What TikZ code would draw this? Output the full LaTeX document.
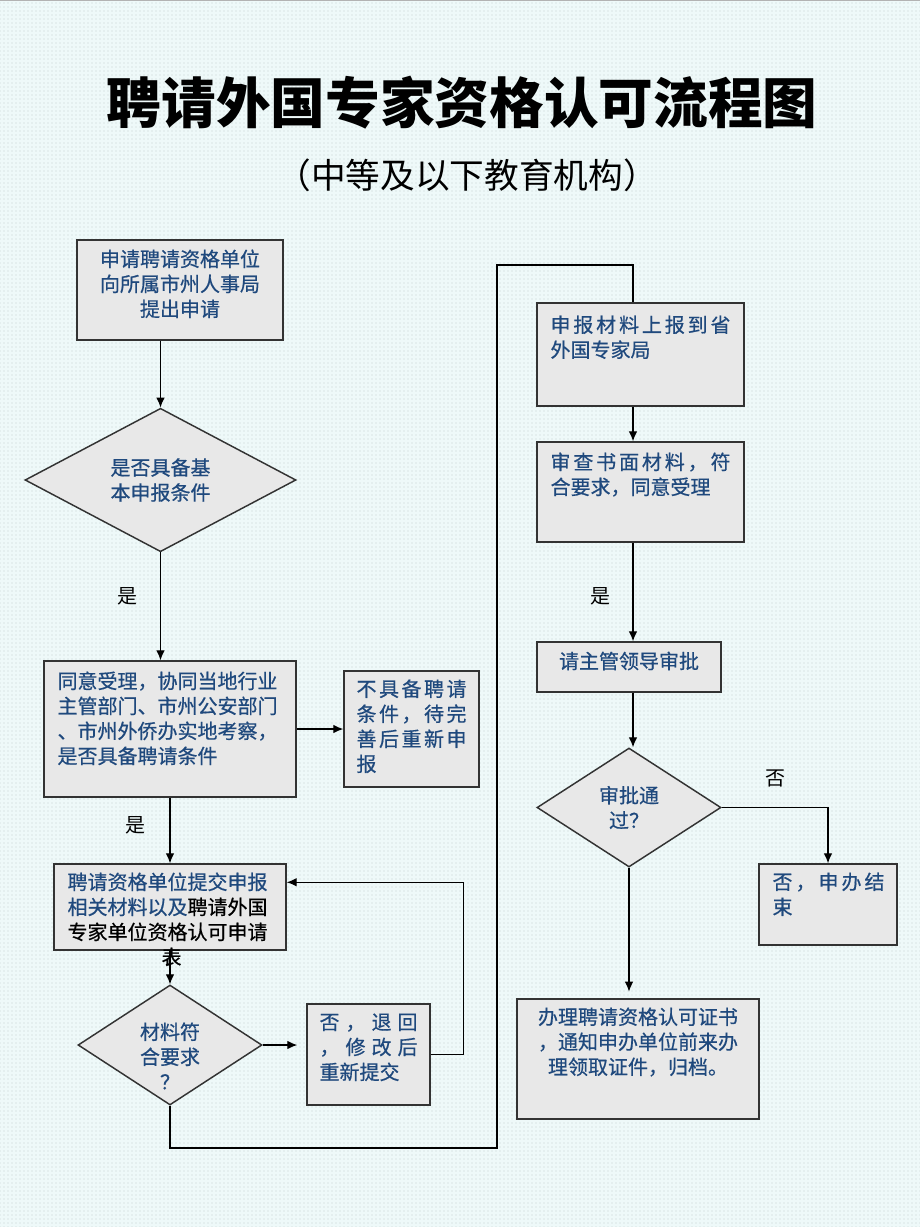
\documentclass[tikz,border=0pt]{standalone}
\usepackage{fontspec}
\setmainfont{Noto Sans CJK SC}
\newfontfamily\boxfont[FakeBold=0.6]{Noto Sans CJK SC}
\usetikzlibrary{shapes.geometric,arrows.meta,patterns}

\definecolor{txtblue}{HTML}{1F497D}
\definecolor{boxgray}{HTML}{E8E8E8}
\definecolor{boxline}{HTML}{333333}
\definecolor{bgcyan}{HTML}{EEF9F9}
\definecolor{dotgray}{HTML}{C4D2D2}

% stretch one line of a box to the full text width
\newcommand{\jl}[2]{\makebox[#1][s]{#2}}

\tikzset{
  procbox/.style={shape=rectangle,draw=boxline,fill=boxgray,line width=1.1pt,inner sep=0pt},
  decision/.style={shape=diamond,draw=boxline,fill=boxgray,line width=1.1pt,inner sep=0pt,
    text=txtblue,align=center,font=\boxfont\fontsize{15}{18.75}\selectfont},
  boxtext/.style={text=txtblue,inner sep=0pt,font=\boxfont\fontsize{15}{18.75}\selectfont},
  lbl/.style={inner sep=0pt,font=\fontsize{15}{18}\selectfont},
  conn/.style={draw=black,line width=0.9pt},
  arr/.style={conn,-{Latex[length=7.5pt,width=6.5pt]}}
}

\begin{document}
\begin{tikzpicture}[x=0.75pt,y=-0.75pt]
\useasboundingbox (0,0) rectangle (920,1227);
\fill[bgcyan] (0,0) rectangle (920,1227);
\fill[pattern=dots,pattern color=dotgray] (0,0) rectangle (920,1227);
\draw[gray!60,line width=1.5pt] (0,0.5) -- (920,0.5);

\node[font=\fontsize{41}{48}\selectfont\bfseries] (title) at (462,103) {聘请外国专家资格认可流程图};
\node[font=\fontsize{26}{30}\selectfont] (subtitle) at (467,175) {（中等及以下教育机构）};

% left column
\node[procbox,minimum width=154.5pt,minimum height=75pt] (apply) at (180,290) {};
\node[boxtext,align=center,anchor=north] (applyT) at ([shift={(0,10)}]apply.north) {申请聘请资格单位\\向所属市州人事局\\提出申请};

\node[decision,minimum width=203.25pt,minimum height=105pt] (ask) at (160.5,480) {是否具备基\\本申报条件};

\node[procbox,minimum width=189pt,minimum height=102pt] (survey) at (170,729) {};
\node[boxtext,align=left,anchor=north west] (surveyT) at ([shift={(14,11)}]survey.north west) {同意受理，协同当地行业\\主管部门、市州公安部门\\、市州外侨办实地考察，\\是否具备聘请条件};

\node[procbox,minimum width=101.25pt,minimum height=87pt] (lack) at (411.5,729) {};
\node[boxtext,align=left,anchor=north west] (lackT) at ([shift={(13,9)}]lack.north west) {\jl{82.5pt}{不\hfil 具\hfil 备\hfil 聘\hfil 请}\\\jl{82.5pt}{条\hfil 件\hfil ，\hfil 待\hfil 完}\\\jl{82.5pt}{善\hfil 后\hfil 重\hfil 新\hfil 申}\\报};

\node[procbox,minimum width=174pt,minimum height=64.5pt] (submit) at (170,907) {};
\node[boxtext,align=left,anchor=north west] (submitT) at ([shift={(14,9)}]submit.north west) {聘请资格单位提交申报\\相关材料以及{\color{black}聘请外国}\\{\color{black}专家单位资格认可申请}\\\hspace*{70.5pt}{\color{black}表}};

\node[decision,minimum width=138pt,minimum height=90pt] (check) at (170,1045) {};
\node[boxtext,align=center] (checkT) at ([shift={(0,11)}]check.center) {材料符\\合要求\\？};

\node[procbox,minimum width=92.25pt,minimum height=75.75pt] (back) at (368.5,1054.5) {};
\node[boxtext,align=left,anchor=north west] (backT) at ([shift={(13,10)}]back.north west) {\jl{73.5pt}{否\hfil ，\hfil 退\hfil 回}\\\jl{73.5pt}{，\hfil 修\hfil 改\hfil 后}\\重新提交};

% right column
\node[procbox,minimum width=155.25pt,minimum height=77.25pt] (report) at (640.5,354.5) {};
\node[boxtext,align=left,anchor=north west] (reportT) at ([shift={(14,13)}]report.north west) {\jl{135pt}{申\hfil 报\hfil 材\hfil 料\hfil 上\hfil 报\hfil 到\hfil 省}\\外国专家局};

\node[procbox,minimum width=155.25pt,minimum height=75pt] (review) at (640.5,492) {};
\node[boxtext,align=left,anchor=north west] (reviewT) at ([shift={(14,11)}]review.north west) {\jl{135pt}{审\hfil 查\hfil 书\hfil 面\hfil 材\hfil 料\hfil ，\hfil 符}\\合要求，同意受理};

\node[procbox,minimum width=138pt,minimum height=37.5pt] (leader) at (629,667) {};
\node[boxtext] (leaderT) at ([shift={(0,-6)}]leader.center) {请主管领导审批};

\node[decision,minimum width=138pt,minimum height=89.25pt] (approve) at (629,807.5) {审批通\\过？};

\node[procbox,minimum width=103.5pt,minimum height=60.75pt] (endbox) at (828,904.5) {};
\node[boxtext,align=left,anchor=north west] (endboxT) at ([shift={(14,9)}]endbox.north west) {\jl{84pt}{否\hfil ，\hfil 申\hfil 办\hfil 结}\\束};

\node[procbox,minimum width=181.5pt,minimum height=90pt] (issue) at (638,1059) {};
\node[boxtext,align=center,anchor=north] (issueT) at ([shift={(0,9)}]issue.north) {办理聘请资格认可证书\\，通知申办单位前来办\\理领取证件，归档。};

% labels
\node[lbl] (yes1) at (127,596) {是};
\node[lbl] (yes2) at (135,825) {是};
\node[lbl] (yes3) at (600,596) {是};
\node[lbl] (no1) at (775,778) {否};

% turning points
\coordinate (lowTurn) at (497,1148);
\coordinate (highTurn) at (497,265);
\coordinate (colR) at (633,265);
\coordinate (submitIn) at ([shift={(0,19)}]submit.north east);

% connectors
\draw[arr] (apply.south -| ask.north) -- (ask.north);
\draw[arr] (ask.south) -- (ask.south |- survey.north);
\draw[arr] (survey.east) -- (lack.west);
\draw[arr] (survey.south) -- (submit.north);
\draw[arr] (submit.south) -- (check.north);
\draw[arr,shorten >=6.75pt] (check.east) -- (check.east -| back.west);
\draw[arr] (back.east) -- ++(33,0) |- (submitIn);
\draw[conn] (check.south) |- (lowTurn) -- (highTurn) -- (colR) -- (colR |- report.north);
\draw[arr] (report.south -| colR) -- (review.north -| colR);
\draw[arr] (review.south -| colR) -- (leader.north -| colR);
\draw[arr] (leader.south -| colR) -- (colR |- approve.north);
\draw[arr] (approve.east) -| (endbox.north);
\draw[arr,shorten >=5pt] (approve.south) -- (approve.south |- issue.north);
\end{tikzpicture}
\end{document}
